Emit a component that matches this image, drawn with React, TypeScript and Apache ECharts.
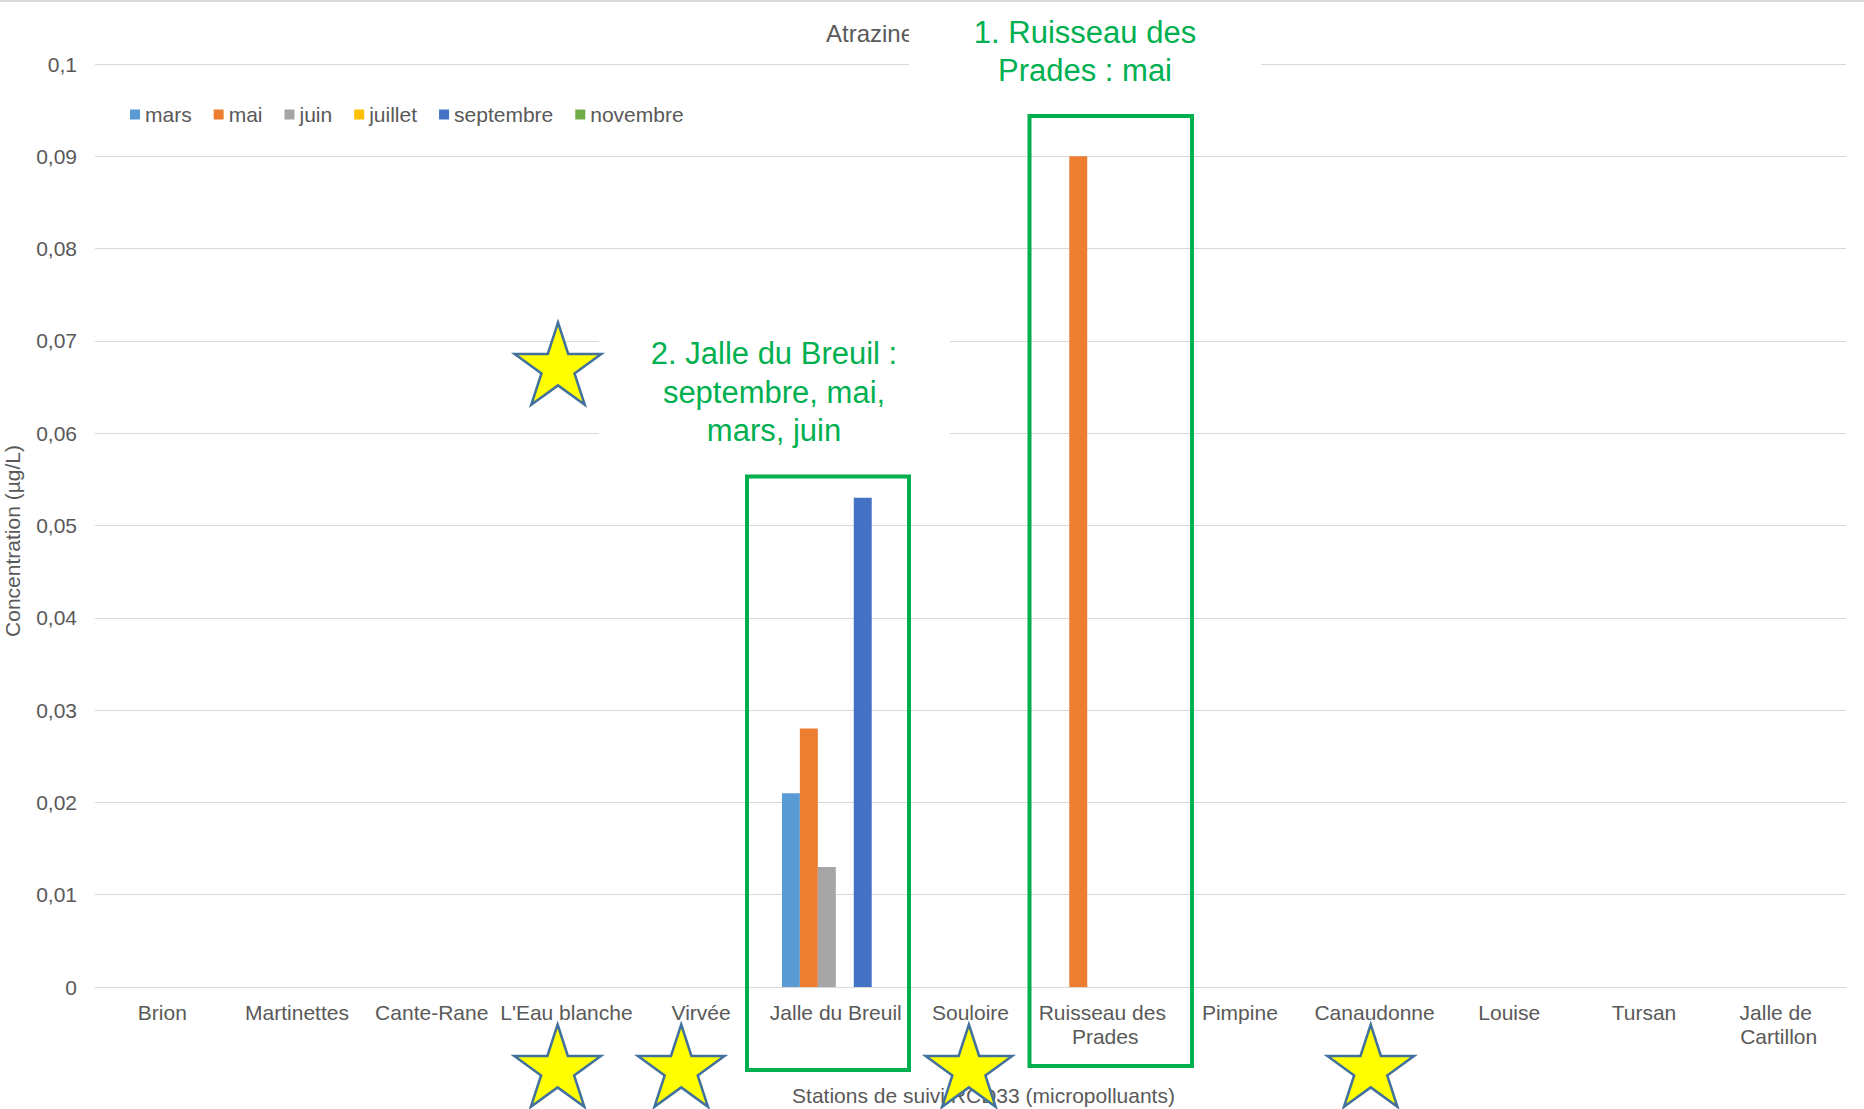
import React, { useEffect, useRef } from "react";
import * as echarts from "echarts";

const categories = [
  "Brion",
  "Martinettes",
  "Cante-Rane",
  "L'Eau blanche",
  "Virvée",
  "Jalle du Breuil",
  "Souloire",
  "Ruisseau des Prades",
  "Pimpine",
  "Canaudonne",
  "Louise",
  "Tursan",
  "Jalle de Cartillon",
];

const seriesNames = ["mars", "mai", "juin", "juillet", "septembre", "novembre"];
const seriesColors = ["#5B9BD5", "#ED7D31", "#A5A5A5", "#FFC000", "#4472C4", "#70AD47"];

const mars = [0, 0, 0, 0, 0, 0.021, 0, 0, 0, 0, 0, 0, 0];
const mai = [0, 0, 0, 0, 0, 0.028, 0, 0.09, 0, 0, 0, 0, 0];
const juin = [0, 0, 0, 0, 0, 0.013, 0, 0, 0, 0, 0, 0, 0];
const juillet = [0, 0, 0, 0, 0, 0, 0, 0, 0, 0, 0, 0, 0];
const septembre = [0, 0, 0, 0, 0, 0.053, 0, 0, 0, 0, 0, 0, 0];
const novembre = [0, 0, 0, 0, 0, 0, 0, 0, 0, 0, 0, 0, 0];

const yMin = 0;
const yMax = 0.1;
const yStep = 0.01;

const titleText = "Atrazine";
const xAxisName = "Stations de suivi RCD33 (micropolluants)";
const yAxisName = "Concentration (µg/L)";
const note1 = "1. Ruisseau des\nPrades : mai";
const note2 = "2. Jalle du Breuil :\nseptembre, mai,\nmars, juin";

const FONT = "'Liberation Sans', Arial, sans-serif";
const TEXT = "#595959";
const GRID = "#D9D9D9";
const GREEN = "#00B050";

function starPoints(cx: number, cy: number, R: number) {
  const r = R * 0.382;
  const pts: number[][] = [];
  for (let i = 0; i < 10; i++) {
    const rad = i % 2 === 0 ? R : r;
    const a = -Math.PI / 2 + (i * Math.PI) / 5;
    pts.push([cx + rad * Math.cos(a), cy + rad * Math.sin(a)]);
  }
  return pts;
}

function star(cx: number, cy: number) {
  return {
    type: "polygon",
    z: 80,
    shape: { points: starPoints(cx, cy, 45.5) },
    style: { fill: "#FFFF00", stroke: "#41719C", lineWidth: 2.5, lineJoin: "miter" },
  };
}

export default function App() {
  const ref = useRef<HTMLDivElement>(null);

  useEffect(() => {
    if (!ref.current) return;
    const chart = echarts.init(ref.current, null, { renderer: "svg" });
    const data = [mars, mai, juin, juillet, septembre, novembre];
    const option: any = {
      animation: false,
      backgroundColor: "#ffffff",
      title: {
        text: titleText,
        left: 826,
        top: 21,
        padding: 0,
        textStyle: { fontFamily: FONT, fontSize: 24, fontWeight: "normal", color: TEXT },
      },
      legend: {
        data: seriesNames,
        left: 130,
        top: 104,
        padding: 0,
        itemWidth: 10,
        itemHeight: 10,
        itemGap: 22,
        icon: "rect",
        textStyle: { fontFamily: FONT, fontSize: 21, color: TEXT },
      },
      grid: {
        left: 95,
        right: 18,
        top: 64,
        bottom: 122,
        containLabel: false,
        outerBoundsMode: "none",
      },
      xAxis: {
        type: "category",
        data: categories,
        name: xAxisName,
        nameLocation: "middle",
        nameGap: 98,
        nameTextStyle: { fontFamily: FONT, fontSize: 21, color: TEXT, padding: [0, 0, 0, 26] },
        axisTick: { show: false },
        axisLine: { lineStyle: { color: GRID, width: 1 } },
        axisLabel: {
          interval: 0,
          margin: 13,
          width: 140,
          overflow: "break",
          lineHeight: 24,
          fontFamily: FONT,
          fontSize: 21,
          color: TEXT,
        },
      },
      yAxis: {
        type: "value",
        min: yMin,
        max: yMax,
        interval: yStep,
        name: yAxisName,
        nameLocation: "middle",
        nameGap: 72,
        nameTextStyle: { fontFamily: FONT, fontSize: 21, color: TEXT, padding: [0, 31, 0, 0] },
        axisLine: { show: false },
        axisTick: { show: false },
        splitLine: { lineStyle: { color: GRID, width: 1 } },
        axisLabel: {
          margin: 18,
          fontFamily: FONT,
          fontSize: 21,
          color: TEXT,
          formatter: (v: number) => String(Number(v.toFixed(3))).replace(".", ","),
        },
      },
      series: seriesNames.map((name, i) => ({
        name,
        type: "bar",
        data: data[i],
        barGap: "0%",
        barCategoryGap: "20%",
        itemStyle: { color: seriesColors[i] },
      })),
      graphic: [
        {
          type: "line",
          z: 40,
          shape: { x1: 0, y1: 1, x2: 1864, y2: 1 },
          style: { stroke: GRID, lineWidth: 2 },
        },
        {
          type: "rect",
          z: 50,
          shape: { x: 909, y: 4, width: 352, height: 96 },
          style: { fill: "#ffffff" },
        },
        {
          type: "rect",
          z: 50,
          shape: { x: 599, y: 318, width: 351, height: 146 },
          style: { fill: "#ffffff" },
        },
        {
          type: "text",
          z: 60,
          x: 1085,
          y: 51,
          style: {
            text: note1,
            fontFamily: FONT,
            fontSize: 31,
            lineHeight: 38,
            fill: GREEN,
            align: "center",
            verticalAlign: "middle",
          },
        },
        {
          type: "text",
          z: 60,
          x: 774,
          y: 392,
          style: {
            text: note2,
            fontFamily: FONT,
            fontSize: 31,
            lineHeight: 38.5,
            fill: GREEN,
            align: "center",
            verticalAlign: "middle",
          },
        },
        {
          type: "rect",
          z: 70,
          shape: { x: 747, y: 476.5, width: 162, height: 593.5 },
          style: { fill: "none", stroke: GREEN, lineWidth: 4 },
        },
        {
          type: "rect",
          z: 70,
          shape: { x: 1029.5, y: 116, width: 162.5, height: 950 },
          style: { fill: "none", stroke: GREEN, lineWidth: 4 },
        },
        star(558, 368),
        star(557.6, 1070),
        star(681.2, 1070),
        star(968.9, 1070),
        star(1370.7, 1070),
      ],
    };
    chart.setOption(option);
    return () => chart.dispose();
  }, []);

  return (
    <div
      ref={ref}
      style={{ position: "fixed", left: 0, top: 0, width: 1864, height: 1109, background: "#fff" }}
    />
  );
}
